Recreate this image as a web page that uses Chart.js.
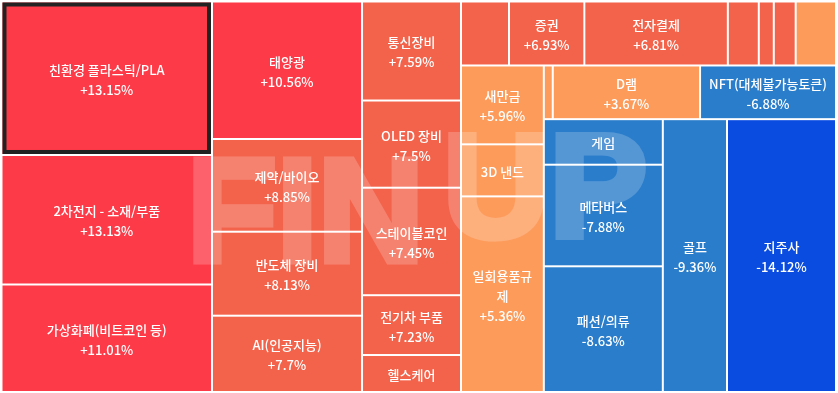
<!DOCTYPE html>
<html>
<head>
<meta charset="utf-8">
<script src="https://cdn.jsdelivr.net/npm/chart.js@4.4.1/dist/chart.umd.min.js"></script>
<style>
    html, body { margin: 0; padding: 0; background: #fff; }
    #wrap { width: 838px; height: 393px; }
</style>
</head>
<body>
<div id="wrap"><canvas id="themeMap" width="838" height="393"></canvas></div>
<script>
// 테마 이름 (빈 문자열 = 칸이 작아서 이름이 보이지 않는 테마)
const themes = [
    '친환경 플라스틱/PLA', '2차전지 - 소재/부품', '가상화폐(비트코인 등)',
    '태양광', '제약/바이오', '반도체 장비', 'AI(인공지능)',
    '통신장비', 'OLED 장비', '스테이블코인', '전기차 부품', '헬스케어',
    '', '증권', '전자결제', '', '', '', '',
    '새만금', '3D 낸드', '일회용품규제',
    '', 'D램', 'NFT(대체불가능토큰)',
    '게임', '메타버스', '패션/의류', '골프', '지주사'
];

// 칸 크기 (가중치)
const weights = [
    323.1, 272.6, 226.3,
    206.3, 139.1, 126.0, 114.5,
    98.0, 86.3, 106.4, 59.2, 36.6,
    30.7, 48.2, 91.8, 19.8, 9.6, 14.0, 25.8,
    65.3, 43.1, 162.0,
    4.8, 79.1, 73.0,
    54.2, 120.9, 149.6, 175.1, 297.4
];

// 등락률 (%)
const changes = [
    13.15, 13.13, 11.01,
    10.56, 8.85, 8.13, 7.7,
    7.59, 7.5, 7.45, 7.23, 7.12,
    7.0, 6.93, 6.81, 6.7, 6.6, 6.5, 6.1,
    5.96, 5.6, 5.36,
    4.5, 3.67, -6.88,
    -7.3, -7.88, -8.63, -9.36, -14.12
];

const selectedIndex = 0;

const W = 834.5;
const H = 390.5;
const PHI = (1 + Math.sqrt(5)) / 2;

function colorFor(change) {
    if (change >= 10) return '#fd3a47';
    if (change >= 6.3) return '#f3634b';
    if (change > 0) return '#fd9b5b';
    if (change > -10) return '#2a7dcb';
    return '#0b4ce0';
}

function formatChange(v) {
    return (v > 0 ? '+' : '') + v + '%';
}

// squarified layout, rows in input order
function squarify(values, x0, y0, x1, y1) {
    const rects = new Array(values.length);
    let value = values.reduce((a, b) => a + b, 0);
    let i0 = 0, i1 = 0;
    const n = values.length;

    while (i0 < n) {
        const dx = x1 - x0, dy = y1 - y0;
        let sum = values[i1++];
        let minV = sum, maxV = sum;
        const alpha = Math.max(dy / dx, dx / dy) / (value * PHI);
        let beta = sum * sum * alpha;
        let minRatio = Math.max(maxV / beta, beta / minV);

        for (; i1 < n; ++i1) {
            const v = values[i1];
            sum += v;
            if (v < minV) minV = v;
            if (v > maxV) maxV = v;
            beta = sum * sum * alpha;
            const r = Math.max(maxV / beta, beta / minV);
            if (r > minRatio) { sum -= v; break; }
            minRatio = r;
        }

        if (dx < dy) {
            const h = dy * sum / value;
            let x = x0;
            for (let i = i0; i < i1; i++) {
                const w = dx * values[i] / sum;
                rects[i] = { x0: x, y0: y0, x1: x + w, y1: y0 + h };
                x += w;
            }
            y0 += h;
        } else {
            const w = dx * sum / value;
            let y = y0;
            for (let i = i0; i < i1; i++) {
                const h = dy * values[i] / sum;
                rects[i] = { x0: x0, y0: y, x1: x0 + w, y1: y + h };
                y += h;
            }
            x0 += w;
        }
        value -= sum;
        i0 = i1;
    }
    return rects;
}

function wrapText(ctx, text, maxWidth) {
    if (ctx.measureText(text).width <= maxWidth) return [text];
    const lines = [];
    let line = '';
    for (const ch of text) {
        if (line && ctx.measureText(line + ch).width > maxWidth) {
            lines.push(line.trim());
            line = ch;
        } else {
            line += ch;
        }
    }
    if (line.trim()) lines.push(line.trim());
    return lines;
}

// heavy "FINUP" watermark, drawn opaque off-screen then blended in
function drawWatermark(ctx, width, height) {
    const off = document.createElement('canvas');
    off.width = width;
    off.height = height;
    const o = off.getContext('2d');
    o.fillStyle = '#ffffff';
    o.strokeStyle = '#ffffff';
    o.lineWidth = 7;
    o.lineJoin = 'miter';
    o.font = 'bold 147px "Liberation Sans", Arial, sans-serif';
    o.textBaseline = 'alphabetic';
    [['FIN', 187, 260.5], ['UP', 443, 236.5]].forEach(([t, x, y]) => {
        o.fillText(t, x, y);
        o.strokeText(t, x, y);
    });
    ctx.save();
    ctx.globalAlpha = 0.2;
    ctx.drawImage(off, 0, 0);
    ctx.restore();
}

const treemapPlugin = {
    id: 'treemapCells',
    beforeDatasetsDraw(chart) {
        const ctx = chart.ctx;
        const xs = chart.scales.x;
        const ys = chart.scales.y;
        const rects = squarify(weights, 0, 0, W, H);

        const boxes = rects.map(r => {
            const left = xs.getPixelForValue(r.x0);
            const right = xs.getPixelForValue(r.x1);
            const top = ys.getPixelForValue(r.y0);
            const bottom = ys.getPixelForValue(r.y1);
            return { left, top, w: right - left, h: bottom - top };
        });

        ctx.save();

        // cells
        boxes.forEach((b, i) => {
            ctx.fillStyle = colorFor(changes[i]);
            ctx.fillRect(b.left + 1, b.top + 1, b.w - 2, b.h - 2);
        });

        // selected cell outline
        const s = boxes[selectedIndex];
        ctx.strokeStyle = '#222222';
        ctx.lineWidth = 4;
        ctx.strokeRect(s.left + 3, s.top + 3, s.w - 6, s.h - 6);

        drawWatermark(ctx, chart.width, chart.height);

        // labels
        ctx.fillStyle = '#ffffff';
        ctx.font = '500 13px "Noto Sans CJK KR", "Noto Sans", sans-serif';
        ctx.textAlign = 'center';
        ctx.textBaseline = 'middle';
        const lineH = 20;

        boxes.forEach((b, i) => {
            if (!themes[i] || b.w < 60) return;
            const maxLines = Math.floor((b.h - 14) / 19.5);
            if (maxLines < 1) return;
            let lines = wrapText(ctx, themes[i], b.w - 12);
            lines.push(formatChange(changes[i]));
            lines = lines.slice(0, maxLines);
            const cx = b.left + b.w / 2;
            const cy = b.top + b.h / 2 + 1.5;
            const startY = cy - (lines.length - 1) * lineH / 2;
            lines.forEach((t, k) => ctx.fillText(t, cx, startY + k * lineH));
        });

        ctx.restore();
    }
};

new Chart(document.getElementById('themeMap'), {
    type: 'scatter',
    data: { datasets: [] },
    options: {
        responsive: false,
        animation: false,
        devicePixelRatio: 1,
        layout: { padding: { left: 1.5, right: 2, top: 1.5, bottom: 1 } },
        scales: {
            x: { type: 'linear', min: 0, max: W, display: false },
            y: { type: 'linear', min: 0, max: H, reverse: true, display: false }
        },
        plugins: {
            legend: { display: false },
            tooltip: { enabled: false }
        }
    },
    plugins: [treemapPlugin]
});
</script>
</body>
</html>
